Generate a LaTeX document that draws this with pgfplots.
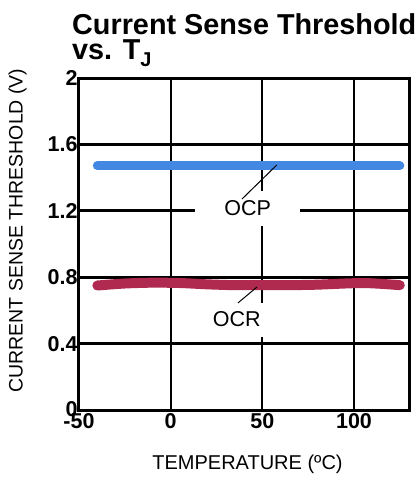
\documentclass[border=0pt]{standalone}
\usepackage{fontspec}
\setmainfont{Liberation Sans}
\usepackage{pgfplots}
\pgfplotsset{compat=1.18}
\definecolor{ocpblue}{RGB}{66,135,225}
\definecolor{ocrred}{RGB}{176,42,80}
\begin{document}
\begin{tikzpicture}
\begin{axis}[
  scale only axis,
  width=330pt, height=332pt,
  xmin=-50, xmax=130, ymin=0, ymax=2,
  xtick={-50,0,50,100},
  xticklabels={-50,0,50,100},
  ytick={0,0.4,0.8,1.2,1.6,2},
  yticklabels={\raisebox{3pt}{0},0.4,0.8,1.2,1.6,2},
  /pgf/number format/assume math mode=true,
  tick label style={font=\fontsize{21.5}{21.5}\selectfont\bfseries},
  xticklabel style={yshift=0pt},
  yticklabel style={xshift=2pt},
  major tick length=0pt,
  grid=major,
  major x grid style={black, line width=2pt},
  major y grid style={black, line width=2.8pt},
  axis line style={black, line width=3pt},
  clip=false,
]
\addplot[ocpblue, line width=9pt, line cap=round] coordinates {(-40,1.472) (125,1.472)};
\addplot[ocrred, line width=10pt, line cap=round, smooth] coordinates {
(-40,0.750) (-25,0.762) (-10,0.767) (5,0.765) (20,0.757) (35,0.752) (50,0.752) (65,0.752) (80,0.755) (95,0.762) (105,0.765) (115,0.760) (125,0.752)};
\node[fill=white, minimum width=105pt, minimum height=35pt, inner sep=0pt, font=\fontsize{21.5}{21.5}\selectfont] at (axis cs:42,1.215) {OCP};
\node[fill=white, minimum width=80pt, minimum height=34pt, inner sep=0pt, font=\fontsize{21.5}{21.5}\selectfont] at (axis cs:36,0.545) {OCR};
\draw[black, line width=1pt] (axis cs:38.9,1.271) -- (axis cs:57.9,1.476);
\draw[black, line width=1pt] (axis cs:36.7,0.645) -- (axis cs:47.1,0.741);
\end{axis}
\node[anchor=base west, inner sep=0pt, font=\fontsize{28.8}{28.8}\selectfont\bfseries] at (-7pt,375pt) {Current Sense Threshold};
\node[anchor=base west, inner sep=0pt, font=\fontsize{28.8}{28.8}\selectfont\bfseries] at (-7pt,350pt) {vs. T\raisebox{-0.22em}{\fontsize{20}{20}\selectfont J}};
\node[rotate=90, inner sep=0pt, font=\fontsize{19.5}{19.5}\selectfont] at (-61.5pt,179.5pt) {CURRENT SENSE THRESHOLD (V)};
\node[inner sep=0pt, font=\fontsize{20}{20}\selectfont] at (168.5pt,-54.5pt) {TEMPERATURE (ºC)};
\pgfresetboundingbox
\path[use as bounding box] (-79pt,-67pt) rectangle (339pt,410pt);
\end{tikzpicture}
\end{document}
